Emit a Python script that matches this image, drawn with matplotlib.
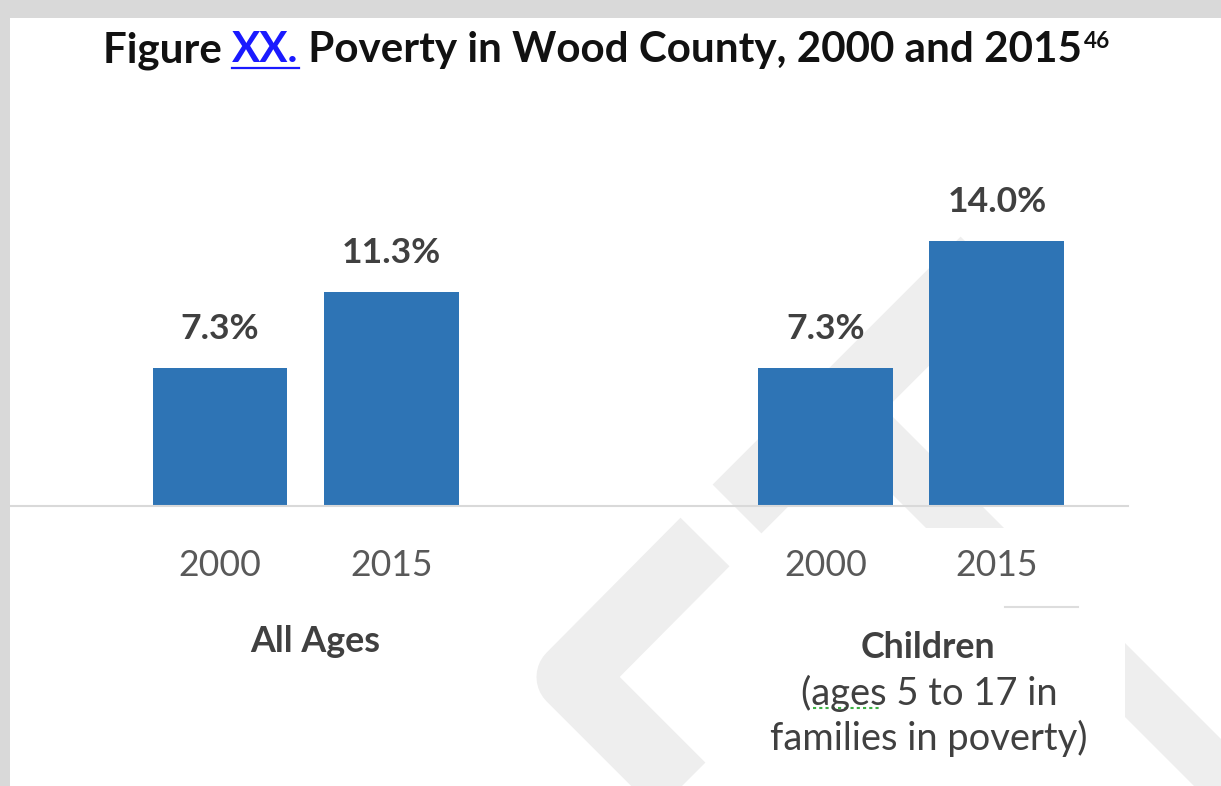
import matplotlib
matplotlib.use("Agg")
import matplotlib.pyplot as plt
import matplotlib.lines as mlines
from matplotlib.patches import Polygon, Rectangle

# data
years = ["2000", "2015"]
all_ages = [7.3, 11.3]
children = [7.3, 14.0]
group_names = ["All Ages", "Children"]
children_note = ["(ages 5 to 17 in", "families in poverty)"]

W, H = 1221, 786
FONT = "Lato"
BLUE = "#2e74b5"
LABEL = "#404040"
TICK = "#595959"
WM = "#eeeeee"

fig = plt.figure(figsize=(W / 100, H / 100), dpi=100)
fig.patch.set_facecolor("white")
r = fig.canvas.get_renderer()


def fit(t, px):
    # scale font so the text is px pixels wide
    for _ in range(2):
        t.set_fontsize(t.get_fontsize() * px / t.get_window_extent(r).width)
    return t.get_fontsize()


# background: screenshot border + faint watermark, in pixel coords
bg = fig.add_axes([0, 0, 1, 1], zorder=0)
bg.set_xlim(0, W)
bg.set_ylim(H, 0)
bg.axis("off")
bg.add_patch(Rectangle((0, 0), W, 18, color="#d9d9d9", lw=0))
bg.add_patch(Rectangle((0, 0), 10, H, color="#d9d9d9", lw=0))
bg.add_line(mlines.Line2D([705, 571, 721], [542, 677, 827], lw=49.7, color=WM,
                          solid_joinstyle="round", solid_capstyle="butt"))
bg.add_line(mlines.Line2D([737, 985], [509, 261], lw=49.7, color=WM,
                          solid_capstyle="butt"))
bg.add_patch(Polygon([(800, 402), (878, 402), (1004, 528), (926, 528)], color=WM, lw=0))
bg.add_patch(Polygon([(1125, 643), (1221, 739), (1221, 786), (1194, 786), (1125, 717)],
                     color=WM, lw=0))
bg.plot([1005, 1078], [607, 607], color="#dddddd", lw=1.5)

# title in pieces (blue underlined XX. and superscript note)
parts = [("Figure ", "#111111"), ("XX.", "#1a1aff"),
         (" Poverty in Wood County, 2000 and 2015", "#111111")]
tparts = [bg.text(0, 0, s, fontsize=28, fontweight="bold", family=FONT, color=c,
                  va="baseline") for s, c in parts]
sup = bg.text(0, 0, "46", fontsize=15, fontweight="bold", family=FONT,
              color="#111111", va="baseline")


def place_title():
    x = 103
    for t in tparts:
        t.set_position((x, 62))
        x += t.get_window_extent(r).width
    sup.set_position((x + 1, 48))
    return x + 1 + sup.get_window_extent(r).width - 103


for _ in range(3):
    k = 1007 / place_title()
    for t in tparts + [sup]:
        t.set_fontsize(t.get_fontsize() * k)
place_title()
xx = tparts[1].get_window_extent(r)
bg.plot([xx.x0, xx.x1], [68, 68], color="#1a1aff", lw=1.6)

# main chart
px_per_unit = 171.5
ax = fig.add_axes([10 / W, (H - 506) / H, 1118 / W, 406 / H], zorder=1)
ax.patch.set_visible(False)
xs = [0, 1, 3.53, 4.53]
vals = all_ages + children
ax.bar(xs, vals, width=0.787, color=BLUE, zorder=2)
ax.set_xlim(-210 / px_per_unit, 908 / px_per_unit)
ax.set_ylim(0, 406 / 18.95)
for s in ["top", "left", "right"]:
    ax.spines[s].set_visible(False)
ax.spines["bottom"].set_color("#d9d9d9")
ax.spines["bottom"].set_linewidth(1.5)
ax.set_xticks([])
ax.set_yticks([])

vsize = None
for x, v in zip(xs, vals):
    t = ax.annotate(f"{v:.1f}%", (x, v), xytext=(0, 39 * 0.72), textcoords="offset points",
                    ha="center", va="center", fontsize=20, fontweight="bold",
                    family=FONT, color=LABEL)
    if vsize is None:
        t.set_text("11.3%")
        vsize = fit(t, 99)
        t.set_text(f"{v:.1f}%")
    t.set_fontsize(vsize)

tsize = None
for x, y in zip(xs, years * 2):
    t = ax.annotate(y, (x, 0), xytext=(0, -60 * 0.72), textcoords="offset points",
                    ha="center", va="center", fontsize=20, family=FONT, color=TICK)
    if tsize is None:
        tsize = fit(t, 82)
    t.set_fontsize(tsize)

g1 = ax.annotate(group_names[0], (0.5, 0), xytext=(7, -135 * 0.72),
                 textcoords="offset points", ha="center", va="center",
                 fontsize=20, fontweight="bold", family=FONT, color=LABEL)
gsize = fit(g1, 130)
g2 = ax.annotate(group_names[1], (4.03, 0), xytext=(12, -142 * 0.72),
                 textcoords="offset points", ha="center", va="center",
                 fontsize=gsize, fontweight="bold", family=FONT, color=LABEL)
for i, line in enumerate(children_note):
    t = ax.annotate(line, (4.03, 0), xytext=(13, -(187 + 45 * i) * 0.72),
                    textcoords="offset points", ha="center", va="center",
                    fontsize=20, family=FONT, color=LABEL)
    if i == 1:
        nsize = fit(t, 318)
        for tt in ax.texts[-2:]:
            tt.set_fontsize(nsize)

# spell-check squiggle under "ages"
bg.plot([813, 880], [708, 708], color="#3cb043", lw=1.5, ls=(0, (1.5, 1.5)))

fig.savefig("out.png", dpi=100)
